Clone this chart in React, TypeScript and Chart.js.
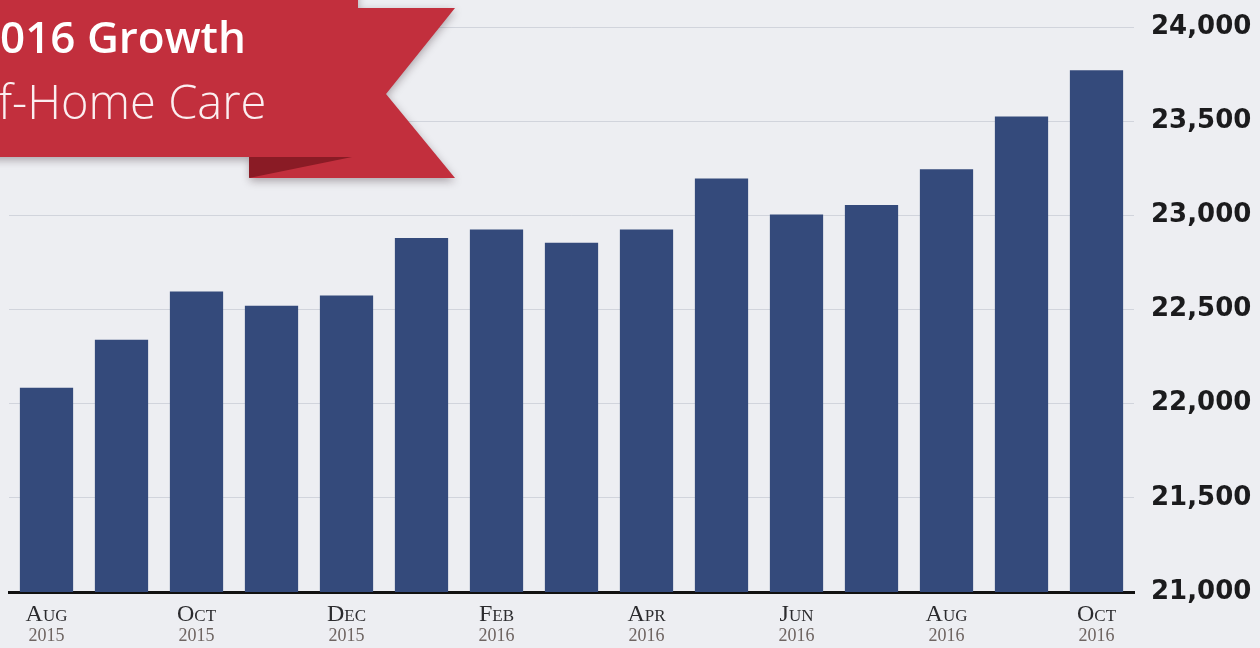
import React, { useEffect, useRef } from "react";
import { Chart, registerables } from "chart.js";

Chart.register(...registerables);

const months = ["Aug", "Sep", "Oct", "Nov", "Dec", "Jan", "Feb", "Mar", "Apr", "May", "Jun", "Jul", "Aug", "Sep", "Oct"];
const years = ["2015", "2015", "2015", "2015", "2015", "2016", "2016", "2016", "2016", "2016", "2016", "2016", "2016", "2016", "2016"];
const values = [22085, 22340, 22595, 22520, 22575, 22880, 22925, 22855, 22925, 23195, 23005, 23055, 23245, 23525, 23770];
const yTicks = [21000, 21500, 22000, 22500, 23000, 23500, 24000];
const titleLine1 = "2016 Growth";
const titleLine2 = "Out-of-Home Care";

const BAR = "#344a7b";
const BG = "#edeef2";

const bgPlugin = {
  id: "bg",
  beforeDraw(chart: any) {
    const { ctx, width, height } = chart;
    ctx.save();
    ctx.fillStyle = BG;
    ctx.fillRect(0, 0, width, height);
    ctx.restore();
  },
};

const xLabelPlugin = {
  id: "xlabels",
  afterDraw(chart: any) {
    const { ctx } = chart;
    const xs = chart.scales.x;
    ctx.save();
    ctx.textBaseline = "alphabetic";
    for (let i = 0; i < months.length; i += 2) {
      const x = xs.getPixelForValue(i);
      const m = months[i].toUpperCase();
      const first = m[0];
      const rest = m.slice(1);
      const bigFont = "24px 'Liberation Serif', serif";
      const smallFont = "17px 'Liberation Serif', serif";
      ctx.font = bigFont;
      const w1 = ctx.measureText(first).width;
      ctx.font = smallFont;
      const w2 = ctx.measureText(rest).width;
      const start = x - (w1 + w2) / 2;
      ctx.fillStyle = "#2b2b2e";
      ctx.textAlign = "left";
      ctx.font = bigFont;
      ctx.fillText(first, start, 621);
      ctx.font = smallFont;
      ctx.fillText(rest, start + w1, 621);
      ctx.font = "18px 'Liberation Serif', serif";
      ctx.fillStyle = "#6e6461";
      ctx.textAlign = "center";
      ctx.fillText(years[i], x, 641);
    }
    ctx.restore();
  },
};

const bannerPlugin = {
  id: "banner",
  afterDraw(chart: any) {
    const { ctx } = chart;
    ctx.save();
    const red = "#c22f3d";
    ctx.shadowColor = "rgba(40,20,30,0.35)";
    ctx.shadowBlur = 8;
    ctx.shadowOffsetY = 3;
    ctx.fillStyle = red;
    ctx.beginPath();
    ctx.moveTo(-20, -20);
    ctx.lineTo(358, -20);
    ctx.lineTo(358, 8);
    ctx.lineTo(455, 8);
    ctx.lineTo(386, 94);
    ctx.lineTo(455, 178);
    ctx.lineTo(250, 178);
    ctx.lineTo(250, 157);
    ctx.lineTo(-20, 157);
    ctx.closePath();
    ctx.fill();
    ctx.shadowColor = "transparent";
    // fold
    ctx.fillStyle = "#8a1b25";
    ctx.beginPath();
    ctx.moveTo(249, 157);
    ctx.lineTo(352, 157);
    ctx.lineTo(249, 178);
    ctx.closePath();
    ctx.fill();
    // texts
    ctx.fillStyle = "#ffffff";
    ctx.textAlign = "left";
    ctx.textBaseline = "alphabetic";
    ctx.font = "600 44px 'Open Sans', sans-serif";
    const off1 = ctx.measureText(titleLine1.slice(0, 1)).width;
    ctx.fillText(titleLine1, 0 - off1, 53);
    ctx.font = "300 47px 'Open Sans', sans-serif";
    ctx.fillStyle = "#fbeef0";
    const off2 = ctx.measureText(titleLine2.slice(0, 5)).width;
    ctx.fillText(titleLine2, -2 - off2, 119);
    ctx.restore();
  },
};

export default function App() {
  const ref = useRef<HTMLCanvasElement | null>(null);
  useEffect(() => {
    document.body.style.margin = "0";
    const chart = new Chart(ref.current as HTMLCanvasElement, {
      type: "bar",
      data: {
        labels: months.map((m, i) => m + " " + years[i]),
        datasets: [
          {
            data: values,
            backgroundColor: BAR,
            borderWidth: 0,
            barPercentage: 0.71,
            categoryPercentage: 1,
          },
        ],
      },
      options: {
        animation: false,
        responsive: false,
        maintainAspectRatio: false,
        layout: { padding: { left: 9, top: 27, bottom: 56, right: 0 } },
        plugins: { legend: { display: false }, tooltip: { enabled: false }, title: { display: false } },
        scales: {
          x: {
            grid: { display: false, drawTicks: false },
            border: { display: true, color: "#111", width: 3 },
            ticks: { display: false },
          },
          y: {
            position: "right",
            min: 21000,
            max: 24000,
            afterBuildTicks(scale: any) {
              scale.ticks = yTicks.map((v) => ({ value: v }));
            },
            afterFit(scale: any) {
              scale.width = 126;
              scale.paddingTop = 0;
              scale.paddingBottom = 0;
            },
            grid: { color: "rgba(175,180,192,0.45)", lineWidth: 1, drawTicks: false },
            border: { display: false },
            ticks: {
              padding: 17,
              color: "#1b1b1d",
              font: { family: "'DejaVu Sans', sans-serif", size: 26, weight: "bold" },
              callback: (v: any) => Number(v).toLocaleString("en-US"),
            },
          },
        },
      },
      plugins: [bgPlugin, xLabelPlugin, bannerPlugin],
    });
    return () => chart.destroy();
  }, []);
  return (
    <div style={{ position: "fixed", left: 0, top: 0, width: 1260, height: 648 }}>
      <canvas ref={ref} width={1260} height={648} style={{ width: 1260, height: 648 }} />
    </div>
  );
}
